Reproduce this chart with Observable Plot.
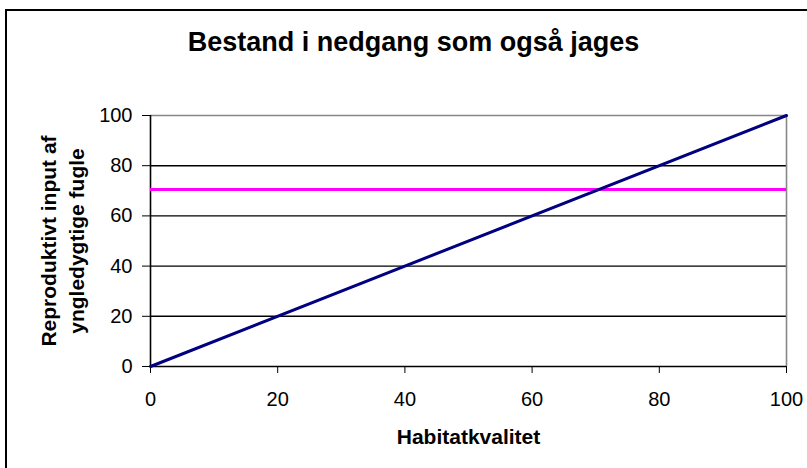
<!DOCTYPE html>
<html>
<head>
<meta charset="utf-8">
<script src="https://cdn.jsdelivr.net/npm/d3@7"></script>
<script src="https://cdn.jsdelivr.net/npm/@observablehq/plot@0.6"></script>
<style>
  html, body { margin: 0; padding: 0; background: #fff; overflow: hidden; }
  #chart { width: 807px; height: 468px; }
</style>
</head>
<body>
<div id="chart"></div>
<script>
// --- data ---
const titleText = "Bestand i nedgang som også jages";
const xTitle = "Habitatkvalitet";
const yTitle = "Reproduktivt input af\nyngledygtige fugle";
const habitat = [0, 100];           // Habitatkvalitet
const reproduktivt = [0, 100];      // navy line values
const jagtNiveau = [70.5];          // magenta horizontal level
const xTicks = [0, 20, 40, 60, 80, 100];
const yTicks = [0, 20, 40, 60, 80, 100];
const gridY = [20, 40, 60, 80];

const lineData = habitat.map((h, i) => ({x: h, y: reproduktivt[i]}));
const font = "'Liberation Sans', Arial, sans-serif";

const plot = Plot.plot({
  width: 807,
  height: 468,
  marginLeft: 150,
  marginRight: 21,
  marginTop: 115,
  marginBottom: 102,
  style: {fontFamily: font, fontSize: "20px", color: "#000", background: "transparent", overflow: "visible"},
  x: {domain: [0, 100], ticks: xTicks, tickSize: 7, tickPadding: 18, label: null, tickFormat: d => String(d)},
  y: {domain: [0, 100], ticks: yTicks, tickSize: 8, tickPadding: 10, label: null, tickFormat: d => String(d)},
  marks: [
    Plot.ruleY(gridY, {stroke: "#000", strokeWidth: 1.4}),
    Plot.ruleY([100], {stroke: "#888", strokeWidth: 1.6}),
    Plot.ruleX([100], {stroke: "#888", strokeWidth: 1.6}),
    Plot.ruleY([0], {stroke: "#000", strokeWidth: 1.6}),
    Plot.ruleX([0], {stroke: "#000", strokeWidth: 1.6}),
    Plot.ruleY(jagtNiveau, {stroke: "#FF00FF", strokeWidth: 3}),
    Plot.line(lineData, {x: "x", y: "y", stroke: "#000080", strokeWidth: 3}),
    Plot.text([titleText], {frameAnchor: "top", dx: -55, dy: -73, lineAnchor: "middle", textAnchor: "middle", fontSize: 27, fontWeight: "bold", fill: "#000"}),
    Plot.text([xTitle], {frameAnchor: "bottom", dy: 71, lineAnchor: "middle", textAnchor: "middle", fontSize: 21, fontWeight: "bold", fill: "#000"}),
    Plot.text([yTitle], {frameAnchor: "left", dx: -89, rotate: -90, textAnchor: "middle", lineAnchor: "middle", fontSize: 21, fontWeight: "bold", lineHeight: 1.33, fill: "#000"})
  ]
});

document.getElementById("chart").appendChild(plot);

// outer chart-area border (extends past the right and bottom edges, as in the reference)
d3.select(plot).insert("rect", ":first-child")
  .attr("x", 6).attr("y", 10).attr("width", 900).attr("height", 600)
  .attr("fill", "#fff").attr("stroke", "#000").attr("stroke-width", 2);
</script>
</body>
</html>
